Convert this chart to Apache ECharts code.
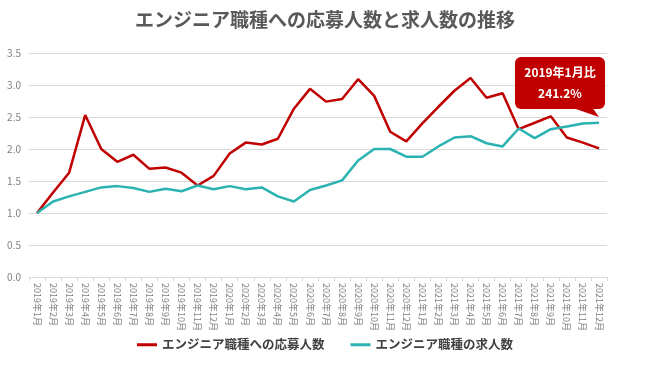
<!DOCTYPE html>
<html><head><meta charset="utf-8">
<script src="https://cdn.jsdelivr.net/npm/echarts@6/dist/echarts.min.js"></script>
<style>html,body{margin:0;padding:0;background:#fff}#c{width:650px;height:366px}</style>
</head><body><div id="c"></div>
<script>
const categories = [];
for (const y of [2019, 2020, 2021]) for (let m = 1; m <= 12; m++) categories.push(y + '年' + m + '月');
const applicants = [1.00,1.32,1.63,2.53,2.00,1.80,1.91,1.69,1.71,1.63,1.43,1.58,
  1.93,2.10,2.07,2.16,2.63,2.94,2.74,2.78,3.09,2.83,2.27,2.12,
  2.40,2.66,2.91,3.11,2.80,2.87,2.31,2.41,2.51,2.18,2.10,2.01];
const openings = [1.00,1.18,1.26,1.33,1.40,1.42,1.39,1.33,1.38,1.34,1.43,1.37,
  1.42,1.37,1.40,1.26,1.18,1.36,1.43,1.51,1.82,2.00,2.00,1.88,
  1.88,2.04,2.18,2.20,2.09,2.04,2.32,2.17,2.31,2.35,2.40,2.412];
const seriesNames = ['エンジニア職種への応募人数', 'エンジニア職種の求人数'];
const titleText = 'エンジニア職種への応募人数と求人数の推移';
const calloutLines = ['2019年1月比', '241.2%'];

const chart = echarts.init(document.getElementById('c'));
const font = '"Noto Sans CJK JP", "Noto Sans", sans-serif';
chart.setOption({
  animation: false,
  textStyle: { fontFamily: font },
  title: { text: titleText, left: 'center', top: 5,
    textStyle: { fontSize: 19, fontWeight: 'bold', color: '#595959', fontFamily: font } },
  grid: { left: 29, right: 43, top: 53, bottom: 89 },
  legend: { bottom: 10, left: 'center', itemWidth: 20, itemHeight: 3, itemGap: 26,
    icon: 'rect',
    textStyle: { fontSize: 12.5, fontWeight: 'bold', color: '#404040', fontFamily: font },
    data: seriesNames },
  xAxis: { type: 'category', data: categories, boundaryGap: true,
    axisLine: { lineStyle: { color: '#d9d9d9' } },
    axisTick: { show: true, length: 4, lineStyle: { color: '#d9d9d9' } },
    axisLabel: { rotate: -90, interval: 0, fontSize: 9, color: '#7f7f7f', margin: 6 } },
  yAxis: { type: 'value', min: 0, max: 3.5, interval: 0.5,
    axisLine: { show: false }, axisTick: { show: false },
    splitLine: { lineStyle: { color: '#d9d9d9' } },
    axisLabel: { formatter: v => v.toFixed(1), fontSize: 10, color: '#7f7f7f', margin: 8 } },
  series: [
    { name: seriesNames[0], type: 'line', data: applicants, symbol: 'none',
      lineStyle: { width: 2.5, color: '#c00000' }, itemStyle: { color: '#c00000' } },
    { name: seriesNames[1], type: 'line', data: openings, symbol: 'none',
      lineStyle: { width: 2.5, color: '#2ab3b1' }, itemStyle: { color: '#2ab3b1' } }
  ],
  graphic: [
    { type: 'group', left: 515, top: 57, z: 100, children: [
      { type: 'rect', z: 100, shape: { x: 0, y: 0, width: 90, height: 52, r: 6 }, style: { fill: '#c00000' } },
      { type: 'polygon', z: 100, shape: { points: [[55, 50], [77, 50], [84, 60]] }, style: { fill: '#c00000' } },
      { type: 'text', z: 101, style: { x: 45, y: 15, text: calloutLines[0], fill: '#fff', align: 'center', verticalAlign: 'middle', fontSize: 12, fontWeight: 'bold', fontFamily: font } },
      { type: 'text', z: 101, style: { x: 45, y: 36, text: calloutLines[1], fill: '#fff', align: 'center', verticalAlign: 'middle', fontSize: 12, fontWeight: 'bold', fontFamily: font } }
    ] }
  ]
});
</script></body></html>
